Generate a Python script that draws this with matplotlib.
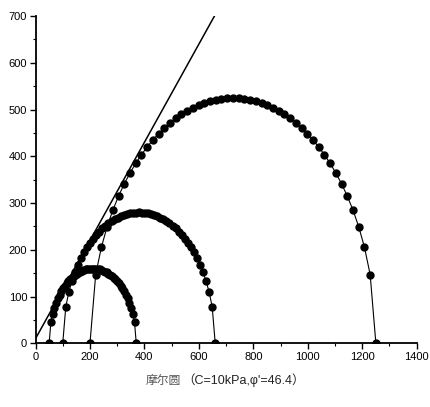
import matplotlib.pyplot as plt
import numpy as np
from matplotlib.ticker import MultipleLocator

# principal stresses of the three tests (kPa)
sigma3 = [50, 100, 200]
sigma1 = [370, 660, 1250]
n_pts = 50

# strength envelope
c = 10.0
phi = 46.4

plt.rcParams['font.family'] = ['Liberation Sans Narrow', 'Liberation Sans', 'DejaVu Sans']

fig = plt.figure(figsize=(4.3, 4.07), dpi=100)
ax = fig.add_axes([0.0826, 0.1565, 0.8865, 0.804])

for s3, s1 in zip(sigma3, sigma1):
    centre = (s1 + s3) / 2
    r = (s1 - s3) / 2
    s = np.linspace(s3, s1, n_pts + 1)
    t = np.sqrt(np.clip(r**2 - (s - centre)**2, 0, None))
    ax.plot(s, t, color='black', lw=0.8, marker='o', ms=5.0,
            mfc='black', mec='black')

s_env = np.array([0, 700])
ax.plot(s_env, c + s_env * np.tan(np.radians(phi)), color='black', lw=1.1)

ax.set_xlim(0, 1400)
ax.set_ylim(0, 700)
ax.xaxis.set_major_locator(MultipleLocator(200))
ax.xaxis.set_minor_locator(MultipleLocator(100))
ax.yaxis.set_major_locator(MultipleLocator(100))
ax.yaxis.set_minor_locator(MultipleLocator(50))
ax.tick_params(which='major', direction='out', length=4, width=1, labelsize=8, pad=2)
ax.tick_params(which='minor', direction='out', length=2, width=0.8)
for side in ['top', 'right']:
    ax.spines[side].set_visible(False)
for side in ['left', 'bottom']:
    ax.spines[side].set_linewidth(1.3)

fig.text(0.421, 0.066, '摩尔圆', fontsize=8.5, color='#555555',
         family=['Noto Sans CJK SC'], ha='right', va='center')
fig.text(0.423, 0.066, '（C=10kPa,φ\'=46.4）', fontsize=9, color='#222222',
         family=['Liberation Sans', 'Noto Sans CJK SC'], ha='left', va='center')

fig.savefig('out.png', dpi=100, facecolor='white')
